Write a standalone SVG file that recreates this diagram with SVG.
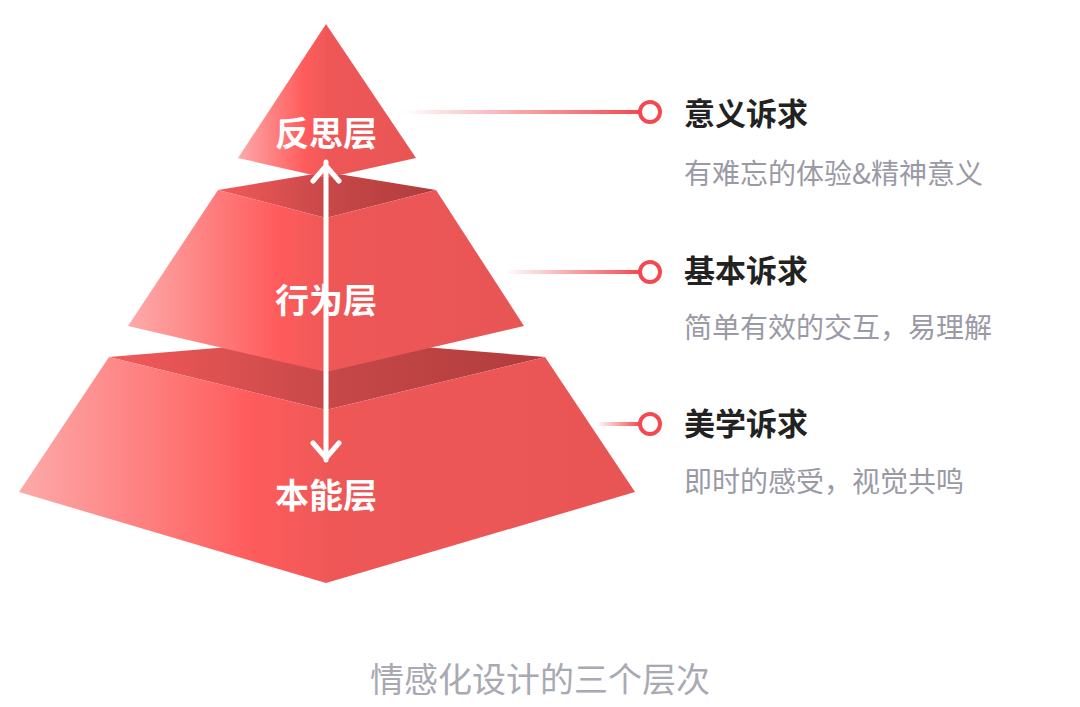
<svg xmlns="http://www.w3.org/2000/svg" width="1080" height="707" viewBox="0 0 1080 707">
<defs>
<linearGradient id="lf" x1="0" y1="0" x2="1" y2="0"><stop offset="0" stop-color="#fdaaaa"/><stop offset="0.75" stop-color="#ff5c5c"/><stop offset="1" stop-color="#f05858"/></linearGradient>
<linearGradient id="rf" x1="0" y1="0" x2="1" y2="0"><stop offset="0" stop-color="#ef5757"/><stop offset="1" stop-color="#e85555"/></linearGradient>
<linearGradient id="tf" x1="0" y1="0" x2="1" y2="0"><stop offset="0" stop-color="#f25a5a"/><stop offset="0.5" stop-color="#c84848"/><stop offset="1" stop-color="#b03c3c"/></linearGradient>
<linearGradient id="ln" x1="0" y1="0" x2="1" y2="0"><stop offset="0" stop-color="#f24a4f" stop-opacity="0"/><stop offset="1" stop-color="#f24a4f"/></linearGradient>
<style>
.lab{font-family:"Noto Sans CJK SC",sans-serif;font-weight:700;font-size:34px;fill:#fff;text-anchor:middle}
.t{font-family:"Noto Sans CJK SC",sans-serif;font-weight:700;font-size:31px;fill:#222}
.s{font-family:"Noto Sans CJK SC",sans-serif;font-size:28px;fill:#9a9aa6}
.dot{fill:#fff;stroke:#f24a4f;stroke-width:4}
</style>
</defs>
<g id="layer-bottom">
<polygon points="109,357 326,339 545,357 326,410" fill="url(#tf)"/>
<polygon points="109,357 326,410 326,583 19,492" fill="url(#lf)"/>
<polygon points="326,410 545,357 635,492 326,583" fill="url(#rf)"/>
<text class="lab" x="326" y="508">本能层</text>
</g>
<g id="layer-middle">
<polygon points="218,190 326,172 436,190 326,218" fill="url(#tf)"/>
<polygon points="218,190 326,218 326,372 128,326" fill="url(#lf)"/>
<polygon points="326,218 436,190 524,326 326,372" fill="url(#rf)"/>
<text class="lab" x="326" y="313">行为层</text>
</g>
<g id="layer-top">
<polygon points="326,24 326,178 238,158" fill="url(#lf)"/>
<polygon points="326,24 416,158 326,178" fill="url(#rf)"/>
<text class="lab" x="326" y="146">反思层</text>
</g>
<g id="connectors" fill="none">
<path d="M326,162 V460 M313,181 L326,166 L339,181 M313,443 L326,458 L339,443" stroke="#fff" stroke-width="5" stroke-linecap="round" stroke-linejoin="round"/>
<rect x="402" y="110" width="238" height="4" fill="url(#ln)"/>
<rect x="505" y="270" width="135" height="4" fill="url(#ln)"/>
<rect x="596" y="422" width="44" height="4" fill="url(#ln)"/>
</g>
<g id="item1"><circle class="dot" cx="650" cy="112" r="10"/><text class="t" x="684" y="125">意义诉求</text><text class="s" x="684" y="184">有难忘的体验&amp;精神意义</text></g>
<g id="item2"><circle class="dot" cx="650" cy="272" r="10"/><text class="t" x="684" y="282">基本诉求</text><text class="s" x="684" y="338">简单有效的交互，易理解</text></g>
<g id="item3"><circle class="dot" cx="650" cy="424" r="10"/><text class="t" x="684" y="435">美学诉求</text><text class="s" x="684" y="492">即时的感受，视觉共鸣</text></g>
<text x="540" y="692" font-family="Noto Sans CJK SC,sans-serif" font-size="34" fill="#a9a9b3" text-anchor="middle">情感化设计的三个层次</text>
</svg>
